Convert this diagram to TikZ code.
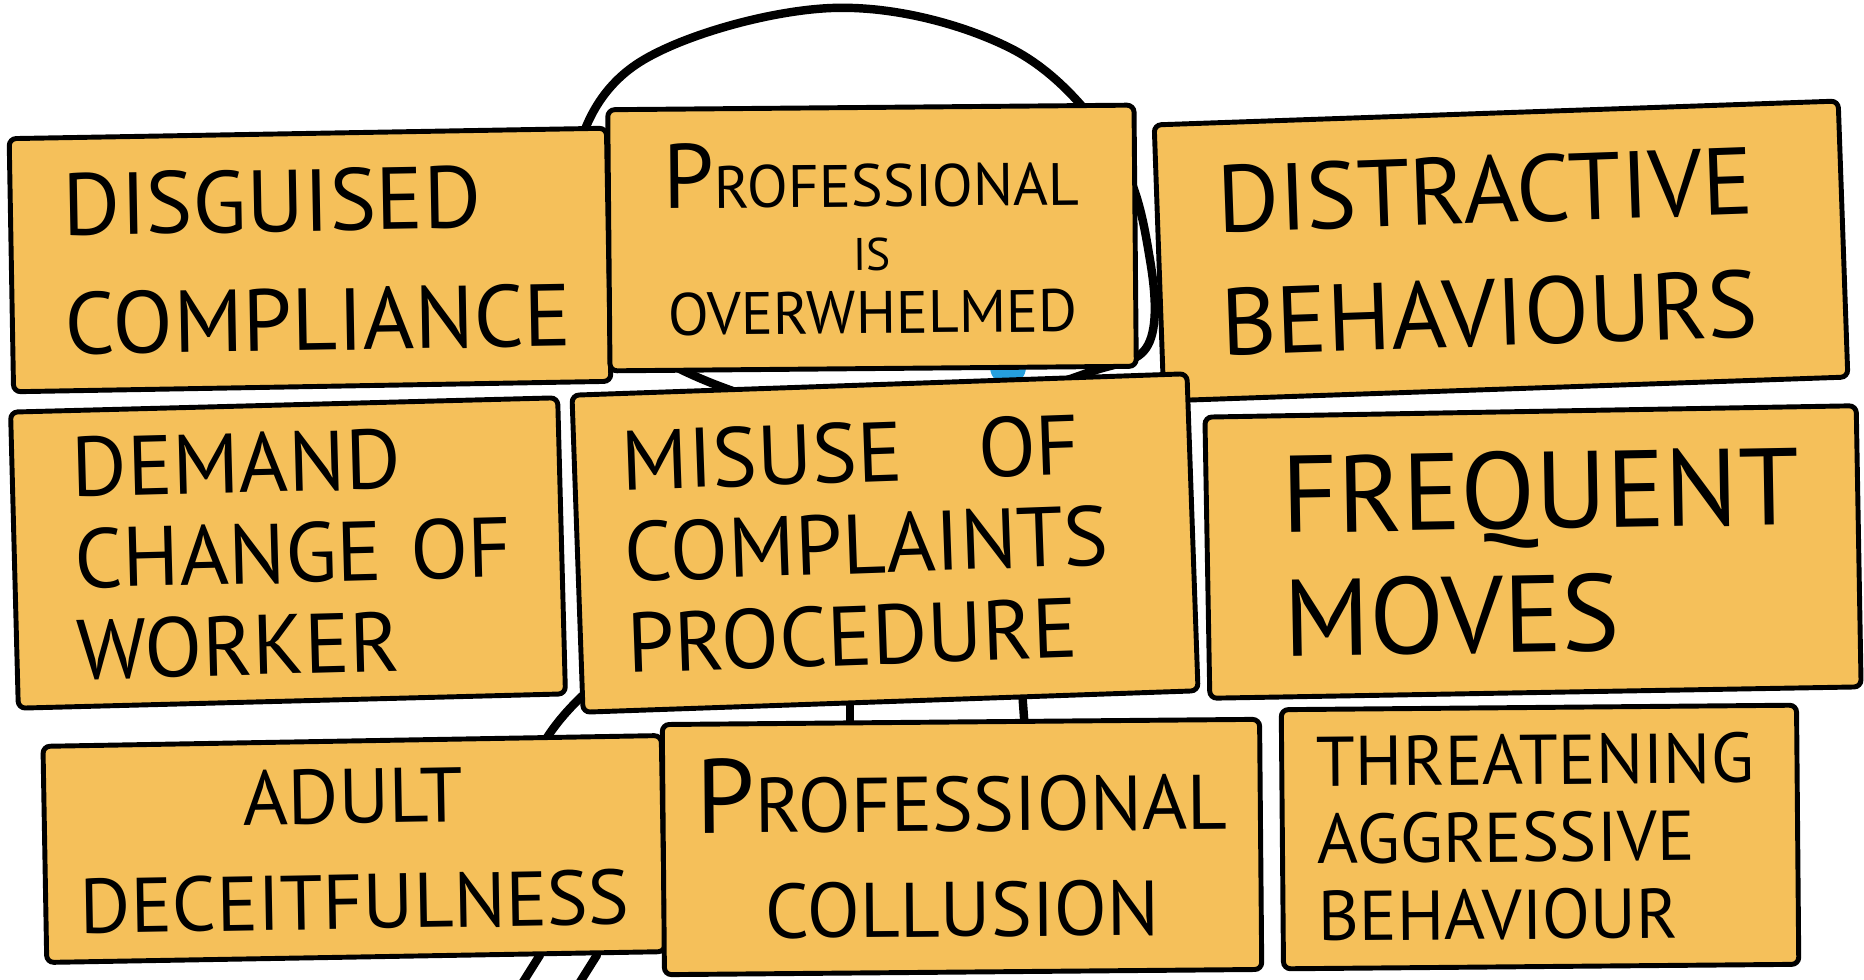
\documentclass[tikz,border=0pt]{standalone}
\usepackage{fontspec}
\setmainfont{PT Sans}
\usepackage{tikz}
\usetikzlibrary{positioning}

\definecolor{cardfill}{RGB}{245,192,90}
\definecolor{dotblue}{RGB}{38,160,222}

\begin{document}
\begin{tikzpicture}[
    x=0.01cm, y=-0.01cm,
    card/.style={rectangle, draw, fill=cardfill, line width=1.4pt, rounded corners=2pt, inner ysep=0pt},
    lcard/.style={card, align=left},
    ccard/.style={card, align=center},
    outline/.style={line width=2.4pt, line cap=round}
]
\useasboundingbox (0,0) rectangle (1864,980);

% figure behind the cards
\draw[outline] plot[smooth cycle, tension=0.6] coordinates {(832,8) (1010,48) (1115,150) (1150,260) (1148,345)
      (1090,372) (980,405) (850,420) (730,390) (640,345) (603,290) (574,170) (640,62)};
\coordinate (chin) at (850,420);
\fill[dotblue] (1008,367) circle (18) coordinate (eye);
\draw[outline] (850,690) -- (850,745);
\draw[outline] (1022,690) -- (1026,745);
\draw[outline] (640,650) .. controls (590,685) and (550,720) .. (530,770);
\draw[outline] (648,780) -- (668,880);
\draw[outline] (518,990) -- (540,955);
\draw[outline] (575,990) -- (597,955);

% top row
\node[lcard, minimum width=5.97cm, minimum height=2.53cm, text width=4.91cm, inner xsep=0.53cm,
      font=\fontsize{25}{34}\selectfont, rotate=1] (disguised) at (310,260)
      {DISGUISED\\COMPLIANCE};
\node[ccard, minimum width=5.26cm, minimum height=2.61cm,
      font=\fontsize{17}{18}\selectfont, rotate=0.5] (overwhelmed) at (872,238)
      {{\fontsize{26}{18}\selectfont P}ROFESSIONAL\\{\fontsize{13}{18}\selectfont IS}\\OVERWHELMED};
\node[lcard, minimum width=6.84cm, minimum height=2.76cm, text width=5.64cm, inner xsep=0.6cm,
      font=\fontsize{27}{35}\selectfont, rotate=2] (distractive) at (1501,251)
      {DISTRACTIVE\\BEHAVIOURS};

% middle row
\node[lcard, minimum width=5.47cm, minimum height=2.96cm, text width=4.27cm, inner xsep=0.6cm,
      font=\fontsize{24}{26}\selectfont, rotate=1.5] (demand) at (288,553)
      {DEMAND\\CHANGE~OF\\WORKER};
\node[lcard, minimum width=6.15cm, minimum height=3.17cm, text width=5.21cm, inner xsep=0.47cm,
      font=\fontsize{24}{26}\selectfont, rotate=2] (misuse) at (885,543)
      {\mbox{MISUSE\hspace{0.9em}OF}\\COMPLAINTS\\PROCEDURE};
\node[lcard, minimum width=6.51cm, minimum height=2.81cm, text width=5.01cm, inner xsep=0.75cm,
      font=\fontsize{31}{35}\selectfont, rotate=1] (frequent) at (1533,552)
      {FREQUENT\\MOVES};

% bottom row
\node[ccard, minimum width=6.18cm, minimum height=2.16cm,
      font=\fontsize{22}{30}\selectfont, rotate=1] (deceit) at (354,849)
      {ADULT\\DECEITFULNESS};
\node[ccard, minimum width=5.97cm, minimum height=2.50cm,
      font=\fontsize{22}{30}\selectfont, rotate=0.5] (collusion) at (962,847)
      {{\fontsize{30}{30}\selectfont P}ROFESSIONAL\\COLLUSION};
\node[lcard, minimum width=5.15cm, minimum height=2.59cm, text width=4.45cm, inner xsep=0.35cm,
      font=\fontsize{20}{22}\selectfont, rotate=0.5] (threat) at (1540,837)
      {THREATENING\\AGGRESSIVE\\BEHAVIOUR};

\end{tikzpicture}
\end{document}
